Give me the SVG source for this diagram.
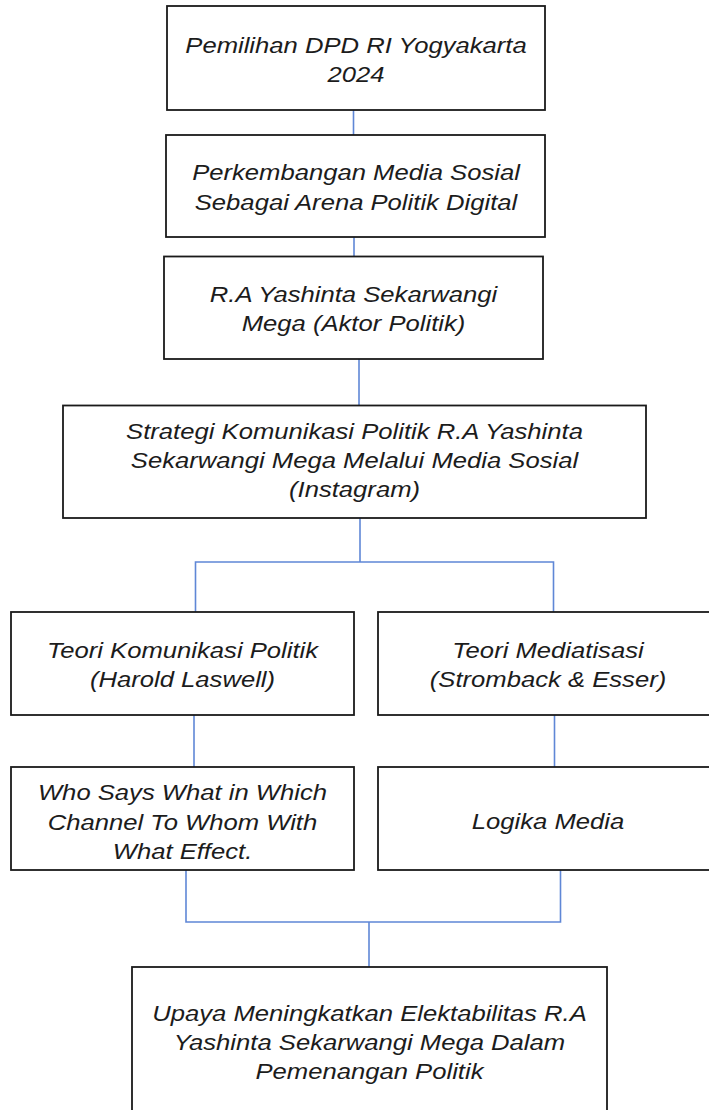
<svg xmlns="http://www.w3.org/2000/svg" width="709" height="1110" viewBox="0 0 709 1110">
<style>
.box{fill:#ffffff;stroke:#1a1a1a;stroke-width:1.8}
.lbl{font-family:"Liberation Sans",Arial,sans-serif;font-style:italic;font-size:22.5px;fill:#1c1c1c;text-anchor:middle}
.con{fill:none;stroke:#5f87d6;stroke-width:1.6}
</style>
<rect width="709" height="1110" fill="#ffffff"/>
<g id="connectors">
<line class="con" x1="353.5" y1="110" x2="353.5" y2="135"/>
<line class="con" x1="354" y1="237" x2="354" y2="257"/>
<line class="con" x1="359" y1="359" x2="359" y2="405"/>
<polyline class="con" points="360,518 360,562"/>
<polyline class="con" points="195.5,613 195.5,562 553.5,562 553.5,613"/>
<line class="con" x1="194" y1="715" x2="194" y2="767"/>
<line class="con" x1="554.5" y1="715" x2="554.5" y2="767"/>
<polyline class="con" points="186,870 186,922 560.5,922 560.5,870"/>
<line class="con" x1="369" y1="922" x2="369" y2="967"/>
</g>
<g id="node1">
<rect class="box" x="167" y="6" width="378" height="104"/>
<g transform="translate(356 0) scale(1.14 1)"><text class="lbl" x="0" y="53">Pemilihan DPD RI Yogyakarta</text><text class="lbl" x="0" y="82">2024</text></g>
</g>
<g id="node2">
<rect class="box" x="166" y="135" width="379" height="102"/>
<g transform="translate(356 0) scale(1.14 1)"><text class="lbl" x="0" y="180">Perkembangan Media Sosial</text><text class="lbl" x="0" y="210">Sebagai Arena Politik Digital</text></g>
</g>
<g id="node3">
<rect class="box" x="164" y="256.5" width="379" height="102.5"/>
<g transform="translate(353.5 0) scale(1.14 1)"><text class="lbl" x="0" y="302.5">R.A Yashinta Sekarwangi</text><text class="lbl" x="0" y="331.5">Mega (Aktor Politik)</text></g>
</g>
<g id="node4">
<rect class="box" x="63" y="405.5" width="583" height="112.5"/>
<g transform="translate(354.5 0) scale(1.14 1)"><text class="lbl" x="0" y="439">Strategi Komunikasi Politik R.A Yashinta</text><text class="lbl" x="0" y="468">Sekarwangi Mega Melalui Media Sosial</text><text class="lbl" x="0" y="497">(Instagram)</text></g>
</g>
<g id="node5">
<rect class="box" x="11" y="612" width="343" height="103"/>
<g transform="translate(182.5 0) scale(1.14 1)"><text class="lbl" x="0" y="658">Teori Komunikasi Politik</text><text class="lbl" x="0" y="687">(Harold Laswell)</text></g>
</g>
<g id="node6">
<rect class="box" x="378" y="612" width="340" height="103"/>
<g transform="translate(548 0) scale(1.14 1)"><text class="lbl" x="0" y="658">Teori Mediatisasi</text><text class="lbl" x="0" y="687">(Stromback &amp; Esser)</text></g>
</g>
<g id="node7">
<rect class="box" x="11" y="767" width="343" height="103"/>
<g transform="translate(182.5 0) scale(1.14 1)"><text class="lbl" x="0" y="800">Who Says What in Which</text><text class="lbl" x="0" y="830">Channel To Whom With</text><text class="lbl" x="0" y="859">What Effect.</text></g>
</g>
<g id="node8">
<rect class="box" x="378" y="767" width="340" height="103"/>
<g transform="translate(548 0) scale(1.14 1)"><text class="lbl" x="0" y="829">Logika Media</text></g>
</g>
<g id="node9">
<rect class="box" x="132" y="967" width="475" height="160"/>
<g transform="translate(369.5 0) scale(1.14 1)"><text class="lbl" x="0" y="1021">Upaya Meningkatkan Elektabilitas R.A</text><text class="lbl" x="0" y="1050">Yashinta Sekarwangi Mega Dalam</text><text class="lbl" x="0" y="1079">Pemenangan Politik</text></g>
</g>
</svg>
